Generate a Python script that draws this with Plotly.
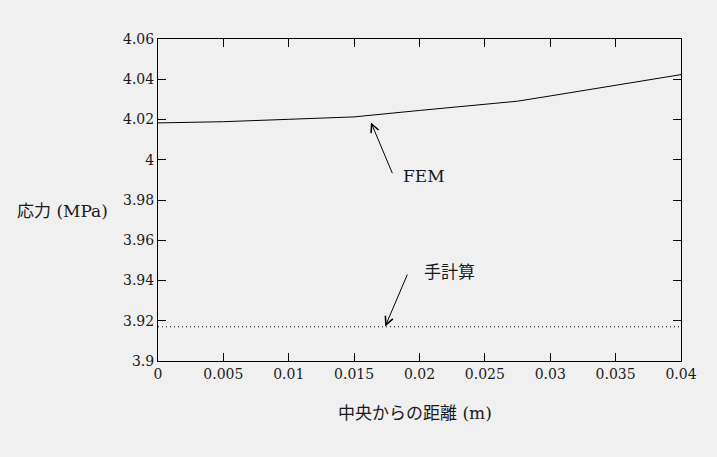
import plotly.graph_objects as go

# FEM result along the distance from the centre
fem_x = [0, 0.005, 0.01, 0.015, 0.02, 0.025, 0.0275, 0.03, 0.035, 0.04]
fem_y = [4.0183, 4.0189, 4.0201, 4.0213, 4.0245, 4.0276, 4.0291, 4.0317, 4.0370, 4.0423]

# Hand calculation (constant)
hand_x = [0, 0.04]
hand_y = [3.917, 3.917]

x_tickvals = [0, 0.005, 0.01, 0.015, 0.02, 0.025, 0.03, 0.035, 0.04]
x_ticktext = ["0", "0.005", "0.01", "0.015", "0.02", "0.025", "0.03", "0.035", "0.04"]
y_tickvals = [3.9, 3.92, 3.94, 3.96, 3.98, 4.0, 4.02, 4.04, 4.06]
y_ticktext = ["3.9", "3.92", "3.94", "3.96", "3.98", "4", "4.02", "4.04", "4.06"]

LAT = "DejaVu Serif"
CJK = "Noto Sans CJK JP"
TXT = "#1a1a1a"

fig = go.Figure()
fig.add_trace(go.Scatter(x=fem_x, y=fem_y, mode="lines",
                         line=dict(color="black", width=1), showlegend=False))
fig.add_trace(go.Scatter(x=hand_x, y=hand_y, mode="lines",
                         line=dict(color="black", width=1, dash="1px,3px"), showlegend=False))

axis_common = dict(showline=True, linecolor="black", linewidth=1, mirror="allticks",
                   ticks="inside", ticklen=8, tickcolor="black", tickwidth=1,
                   showgrid=False, zeroline=False,
                   tickfont=dict(family=LAT, size=14, color=TXT))

fig.update_xaxes(range=[0, 0.04], tickvals=x_tickvals, ticktext=x_ticktext, **axis_common)
fig.update_yaxes(range=[3.9, 4.06], tickvals=y_tickvals, ticktext=y_ticktext, **axis_common)

def cjk(s, size=17):
    return f'<span style="font-family:{CJK};font-size:{size}px">{s}</span>'

annotations = [
    # FEM arrow
    dict(x=0.01629, y=4.01856, ax=0.01797, ay=3.99257, xref="x", yref="y", axref="x", ayref="y",
         text="", showarrow=True, arrowhead=5, arrowsize=1.6, arrowwidth=1, arrowcolor="black"),
    dict(x=0.01861, y=3.9921, xref="x", yref="y", text="FEM", showarrow=False,
         xanchor="left", yanchor="middle", font=dict(family=LAT, size=17, color=TXT)),
    # hand calculation arrow
    dict(x=0.01738, y=3.91719, ax=0.01912, ay=3.9437, xref="x", yref="y", axref="x", ayref="y",
         text="", showarrow=True, arrowhead=5, arrowsize=1.6, arrowwidth=1, arrowcolor="black"),
    dict(x=0.0202, y=3.9449, xref="x", yref="y", text=cjk("手計算"), showarrow=False,
         xanchor="left", yanchor="middle", font=dict(family=LAT, size=17, color=TXT)),
    # axis titles
    dict(x=-0.092, y=0.47, xref="paper", yref="paper",
         text=cjk("応力") + " (MPa)", showarrow=False, xanchor="right", yanchor="middle",
         font=dict(family=LAT, size=17, color=TXT)),
    dict(x=0.491, y=-0.158, xref="paper", yref="paper",
         text=cjk("中央からの距離") + " (m)", showarrow=False, xanchor="center", yanchor="middle",
         font=dict(family=LAT, size=17, color=TXT)),
]

fig.update_layout(width=717, height=457, margin=dict(l=158, r=36, t=39, b=96),
                  paper_bgcolor="#f0f0f0", plot_bgcolor="#f0f0f0",
                  font=dict(family=LAT, color=TXT),
                  annotations=annotations, showlegend=False)

fig.write_html("out.html", config={"displayModeBar": False},
               post_script="document.body.style.margin='0';")
